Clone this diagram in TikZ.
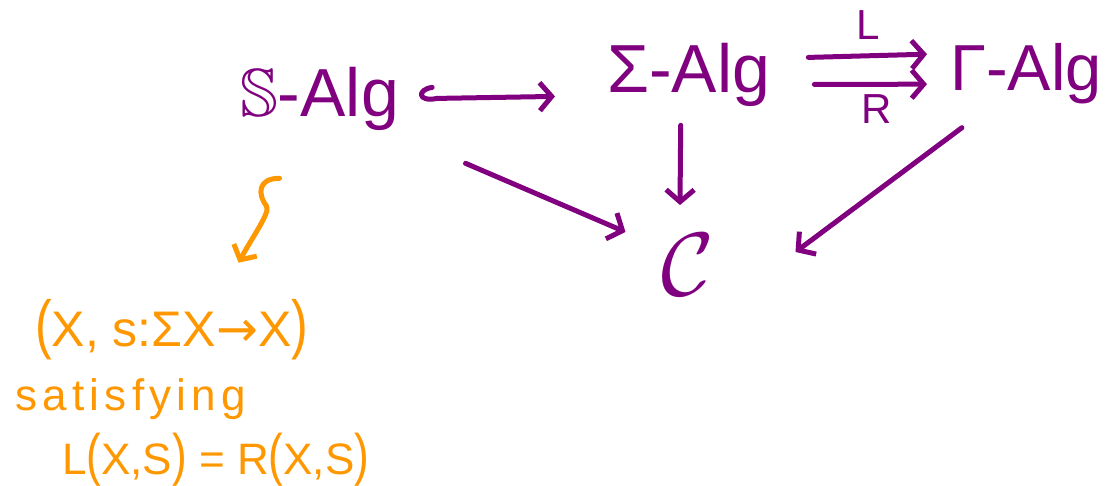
\documentclass[tikz,border=0pt]{standalone}
\usepackage{fontspec}
\setmainfont{Liberation Sans}
\newfontfamily\dvfont{DejaVu Sans}
\usepackage{amssymb}
\usetikzlibrary{arrows.meta,calc}
\definecolor{hpurple}{RGB}{128,0,128}
\definecolor{horange}{RGB}{255,152,0}
\newcommand{\tallp}[1]{\scalebox{1}[1.3]{#1}}
\begin{document}
\begin{tikzpicture}[x=1pt,y=-1pt,
  lab/.style={inner sep=0pt, anchor=base west, text=hpurple, font=\fontsize{68}{80}\selectfont},
  lr/.style={text=hpurple, inner sep=0pt, font=\fontsize{42}{50}\selectfont},
  olab/.style={inner sep=0pt, anchor=base west, text=horange},
  arr/.style={draw=hpurple, line width=5pt, line cap=round, line join=round,
    -{Straight Barb[length=12pt,width=28pt]}},
  oarr/.style={draw=horange, line width=5pt, line cap=round, line join=round,
    -{Straight Barb[length=11pt,width=26pt]}}]
\fill[white] (0,0) rectangle (1108,486);
\useasboundingbox (0,0) rectangle (1108,486);

% purple objects
\node[lab] (salg) at (240,117) {\scalebox{6.8}{\normalsize$\mathbb{S}$}-Alg};
\node[lab] (sigalg) at (607,93) {Σ-Alg};
\node[lab, font=\fontsize{65}{78}\selectfont] (galg) at (950,91) {Γ-Alg};
\node[text=hpurple, inner sep=0pt] (C) at (688,265) {\scalebox{9}{\normalsize$\mathcal{C}$}};

% hook arrow
\draw[arr] ($(salg.east)+(33,-12)$) .. controls ($(salg.east)+(18,-10)$) and ($(salg.east)+(18,3)$) .. ($(salg.east)+(38,-1)$) -- ($(sigalg.west)+(-52,21)$);
% down arrow
\draw[arr] ($(sigalg.south)+(-8,18)$) -- ($(C.north)+(-8,-29)$);
% S-Alg to C
\draw[arr] ($(salg.south)+(146,32)$) -- ($(C.west)+(-36,-33)$);
% Gamma-Alg to C
\draw[arr] ($(galg.south)+(-64,23)$) -- ($(C.east)+(81,-13)$);
% L and R
\draw[arr] ($(sigalg.east)+(38,-18)$) -- node[lr, midway, above=14pt] (L) {L} ($(galg.west)+(-23,-20)$);
\draw[arr] ($(sigalg.east)+(44,9)$) -- node[lr, midway, below=8pt, xshift=6pt] (R) {R} ($(galg.west)+(-23,10)$);

% orange text
\node[olab, font=\fontsize{50}{60}\selectfont] (l1) at (35,346) {\tallp{(}X, s:ΣX{\dvfont →}X\tallp{)}};
\node[olab, font=\fontsize{44}{52}\selectfont\addfontfeature{LetterSpace=12}] (l2) at (15,410) {satisfying};
\node[olab, font=\fontsize{44}{52}\selectfont] (l3) at (62,474) {L\tallp{(}X,S\tallp{)} = R\tallp{(}X,S\tallp{)}};

% squiggle arrow
\coordinate (sq) at ($(salg.south)+(-40,47)$);
\draw[oarr] (sq) .. controls ($(sq)+(-22,0)$) and ($(sq)+(-22,16)$) .. ($(sq)+(-13,28)$)
  .. controls ($(sq)+(-9,34)$) and ($(sq)+(-28,60)$) .. ($(l1.north)+(67,-36)$);
\end{tikzpicture}
\end{document}
